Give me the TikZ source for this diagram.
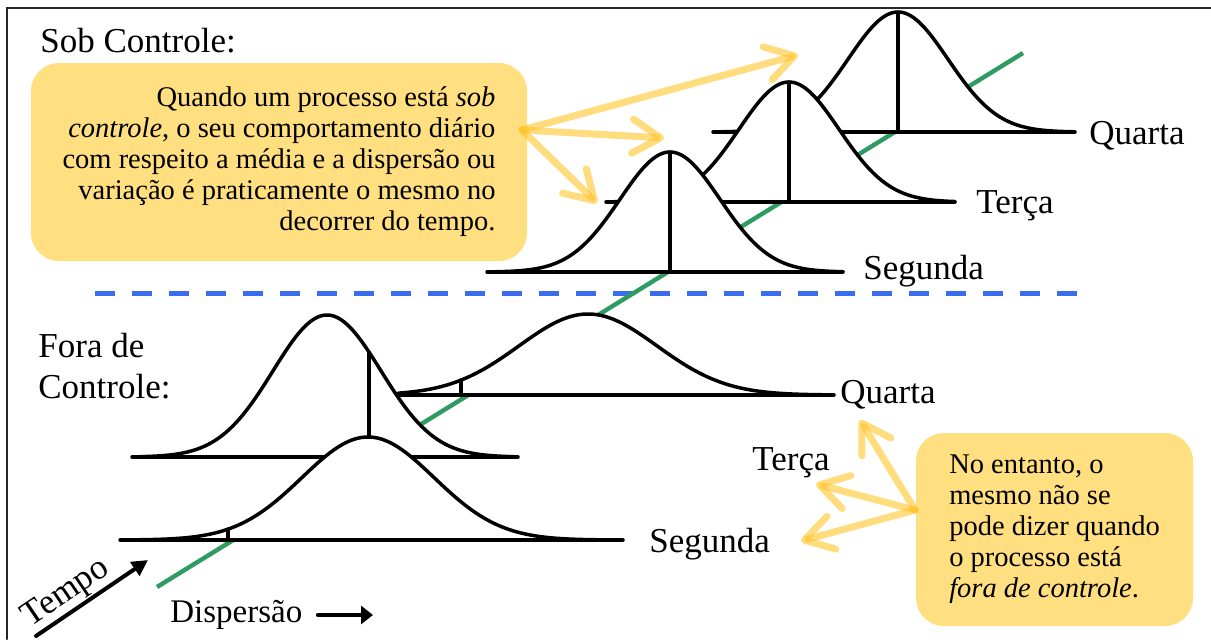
\documentclass[tikz,border=0pt]{standalone}
\usepackage{fontspec}
\setmainfont{Liberation Serif}
\usetikzlibrary{arrows.meta}
\definecolor{boxyellow}{RGB}{255,223,128}
\definecolor{hintyellow}{RGB}{255,196,40}
\definecolor{timegreen}{RGB}{46,155,99}
\definecolor{splitblue}{RGB}{58,108,240}

\begin{document}
\begin{tikzpicture}[x=0.5pt,y=-0.5pt,line cap=round,
  declare function={bell(\q,\m,\sg)=exp(-0.5*((\q-\m)/\sg)*((\q-\m)/\sg));},
  curve/.style={black,line width=1.75pt},
  hint/.style={draw=hintyellow,draw opacity=0.6,line width=3.5pt,-{Straight Barb[length=14pt,width=17pt,round]}},
  note/.style={fill=boxyellow,rounded corners=14pt,inner sep=0pt,font=\fontsize{14.25}{15.5}\selectfont},
  title/.style={inner sep=0pt,font=\fontsize{17.5}{20.5}\selectfont},
  day/.style={inner sep=0pt,anchor=base west,font=\fontsize{17.5}{20.5}\selectfont}]
\useasboundingbox (0,0) rectangle (1211,639);
\draw[line width=1.2pt,black!85] (7,639) -- (7,8) -- (1211,8);

% dashed split and time axis
\coordinate (cut0) at (95,293);
\coordinate (cut1) at (1077,293);
\draw[splitblue,line width=2.5pt,line cap=butt,dash pattern=on 10pt off 8.5pt] (cut0) -- (cut1);
\coordinate (g0) at (157,587);
\coordinate (g1) at (1023,53);
\draw[timegreen,line width=2.2pt,line cap=butt] (g0) -- (g1);

% sob controle: quarta, terca, segunda
\fill[white] (723,132) -- plot[domain=723:1073,samples=80] (\x,{132-120*bell(\x,898,50)}) -- cycle;
\draw[curve] (713,132) -- (1075,132);
\draw[curve] plot[domain=723:1073,samples=80,smooth] (\x,{132-120*bell(\x,898,50)});
\draw[curve] (898,12) -- (898,132);
\fill[white] (614,202) -- plot[domain=614:964,samples=80] (\x,{202-120*bell(\x,789,50)}) -- cycle;
\draw[curve] (606,202) -- (955,202);
\draw[curve] plot[domain=614:955,samples=80,smooth] (\x,{202-120*bell(\x,789,50)});
\draw[curve] (789,82) -- (789,202);
\fill[white] (495,272) -- plot[domain=495:845,samples=80] (\x,{272-120*bell(\x,670,50)}) -- cycle;
\draw[curve] (487,272) -- (843,272);
\draw[curve] plot[domain=495:843,samples=80,smooth] (\x,{272-120*bell(\x,670,50)});
\draw[curve] (670,152) -- (670,272);

% fora de controle: quarta, terca, segunda
\fill[white] (398,395) -- plot[domain=398:830,samples=80] (\x,{395-81*bell(\x,588,69)}) -- cycle;
\draw[curve] (398,395) -- (834,395);
\draw[curve] plot[domain=398:830,samples=80,smooth] (\x,{395-81*bell(\x,588,69)});
\draw[curve] (461,{395-81*bell(461,588,69)}) -- (461,395);
\fill[white] (140,457) -- plot[domain=140:514,samples=80] (\x,{457-142*bell(\x,327,54)}) -- cycle;
\draw[curve] (132,457) -- (518,457);
\draw[curve] plot[domain=140:514,samples=80,smooth] (\x,{457-142*bell(\x,327,54)});
\draw[curve] (369,{457-142*bell(369,327,54)}) -- (369,457);
\fill[white] (130,540) -- plot[domain=130:610,samples=90] (\x,{540-103*bell(\x,368,66)}) -- cycle;
\draw[curve] (120,540) -- (623,540);
\draw[curve] plot[domain=130:610,samples=90,smooth] (\x,{540-103*bell(\x,368,66)});
\draw[curve] (228,{540-103*bell(228,368,66)}) -- (228,540);

% titles and days
\node[title,anchor=base west] (sob) at (40,52) {Sob Controle:};
\node[title,anchor=north west,align=left] (fora) at (38,333) {Fora de\\Controle:};
\node[day] (segA) at (863,279) {Segunda};
\node[day] (terA) at (976,213) {Terça};
\node[day] (quaA) at (1089,144) {Quarta};
\node[day] (quaB) at (840,403) {Quarta};
\node[day] (terB) at (752,470) {Terça};
\node[day] (segB) at (649,552) {Segunda};

% notes
\node[note,minimum width=248pt,minimum height=99pt,align=right] (sobbox) at (279,162)
  {Quando um processo está \textit{sob}\\\textit{controle}, o seu comportamento diário\\com respeito a média e a dispersão ou\\variação é praticamente o mesmo no\\decorrer do tempo.};
\node[note,minimum width=138.5pt,minimum height=96.5pt,align=left] (forabox) at (1054.5,529.5)
  {No entanto, o\\mesmo não se\\pode dizer quando\\o processo está\\\textit{fora de controle}.};

% yellow pointers
\coordinate (sobsrc) at (522,130);
\coordinate (sobQ) at (798,55);
\coordinate (sobT) at (664,138);
\coordinate (sobS) at (597,203);
\draw[hint] (sobsrc) -- (sobQ);
\draw[hint] (sobsrc) -- (sobT);
\draw[hint] (sobsrc) -- (sobS);
\coordinate (forsrc) at (915,510);
\coordinate (forQ) at (860,420);
\coordinate (forT) at (816,484);
\coordinate (forS) at (801,541);
\draw[hint] (forsrc) -- (forQ);
\draw[hint] (forsrc) -- (forT);
\draw[hint] (forsrc) -- (forS);

% axes legend
\coordinate (t0) at (36,636);
\coordinate (t1) at (148,560);
\draw[line width=2pt,-{Triangle[length=8pt,width=8pt]}] (t0) -- (t1)
  node[pos=0.36,sloped,above,inner sep=0.5pt,font=\fontsize{17.5}{20.5}\selectfont] (tempo) {Tempo};
\node[inner sep=0pt,anchor=base west,font=\fontsize{16.5}{19}\selectfont] (disp) at (170,622) {Dispersão};
\coordinate (d0) at (318,615);
\coordinate (d1) at (373,615);
\draw[line width=2.2pt,-{Triangle[length=6pt,width=9pt]}] (d0) -- (d1);
\end{tikzpicture}
\end{document}
